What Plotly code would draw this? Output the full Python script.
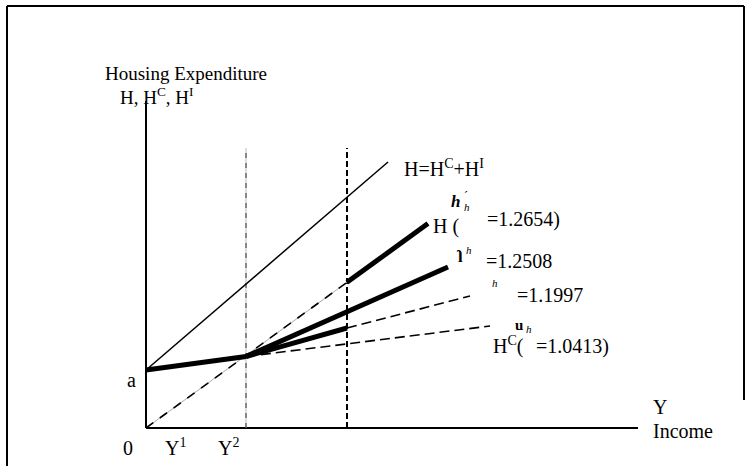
import plotly.graph_objects as go

# ---------------- data (chart units: origin at 0,0) ----------------
y_intercept_a = 0.58          # point "a" on the vertical axis
Y1 = 0.39
Y2 = 1.00
Y3 = 2.01
v_top = 2.80                  # top of the two vertical reference lines
axis_y_top = 3.27
axis_x_right = 4.92

total_x = [0.0, 2.42]                       # H = H^C + H^I
total_y = [0.58, 2.66]
origin_x = [0.0, 1.00, 2.01, 2.82]          # ray through origin (1.2654)
origin_y = [0.0, 0.725, 1.457, 2.045]
hc_x = [0.0, 1.00, 3.44]                    # H^C (1.0413)
hc_y = [0.58, 0.715, 1.02]
e2508_x = [1.00, 3.02]                      # 1.2508
e2508_y = [0.715, 1.61]
e1997_x = [1.00, 2.01, 3.24]                # 1.1997
e1997_y = [0.715, 1.00, 1.32]

FONT = "Liberation Serif"
X0, Y0, S = 146.0, 428.0, 100.0   # pixel position of origin, pixels per unit
W, H = 750, 466


def dx(px):
    return (px - X0) / S


def dy(py):
    return (Y0 - py) / S


fig = go.Figure()


def add_line(xs, ys, width, color="black", dash="solid"):
    fig.add_trace(go.Scatter(x=xs, y=ys, mode="lines",
                             line=dict(color=color, width=width, dash=dash),
                             hoverinfo="skip", showlegend=False))


# axes
add_line([0, 0], [0, axis_y_top], 2)
add_line([0, axis_x_right], [0, 0], 2)
# vertical reference lines
add_line([Y2, Y2], [0, v_top], 1, color="#bbb")
add_line([Y2, Y2], [0, v_top], 1, color="#333", dash="5px,5px")
add_line([Y3, Y3], [0, v_top], 2, color="black", dash="6px,3px")
# total line
add_line(total_x, total_y, 1.5)
# ray through origin: dashed then thick
add_line(origin_x[:3], origin_y[:3], 1, color="#aaa")
add_line(origin_x[:3], origin_y[:3], 1.6, color="black", dash="9px,8px")
add_line(origin_x[2:], origin_y[2:], 5)
# H^C: thick from a to Y2, dashed after
add_line(hc_x[:2], hc_y[:2], 5)
add_line(hc_x[1:], hc_y[1:], 1.6, dash="10px,5px")
# 1.2508 thick
add_line(e2508_x, e2508_y, 5)
# 1.1997 thick then dashed
add_line(e1997_x[:2], e1997_y[:2], 5)
add_line(e1997_x[1:], e1997_y[1:], 1.6, dash="10px,5px")

ann = []


def text(s, px, baseline, size=20, anchor="left"):
    ann.append(dict(x=dx(px), y=dy(baseline + 0.216 * size + 1), xref="x", yref="y",
                    text=s, showarrow=False, xanchor=anchor, yanchor="bottom",
                    font=dict(family=FONT, size=size, color="black"), borderpad=0))


text("Housing Expenditure", 104, 80, 19)
text("H, H<sup>C</sup>, H<sup>I</sup>", 119, 104, 19)
text("H=H<sup>C</sup>+H<sup>I</sup>", 403, 176, 20)
text("<b><i>h</i></b>", 450, 207, 17)
text("ˊ", 463, 200, 12)
text("<i>h</i>", 463, 211, 11)
text("H (", 432, 234, 20)
text("=1.2654)", 486, 227, 20)
text("<b>ɿ</b>", 455, 258, 17)
text("<i>h</i>", 465, 254, 11)
text("=1.2508", 485, 268, 20)
text("<i>h</i>", 491, 287, 11)
text("=1.1997", 516, 302, 20)
text("<b>u</b>", 514, 330, 15)
text("<i>h</i>", 525, 333, 11)
text("H<sup>C</sup>(", 492, 354, 20)
text("=1.0413)", 535, 354, 20)
text("Y", 652, 414, 20)
text("Income", 652, 438, 20)
text("a", 126, 387, 20)
text("0", 122, 455, 20)
text("Y<sup>1</sup>", 164, 455, 20)
text("Y<sup>2</sup>", 217, 455, 20)

# frame
frame = [
    dict(type="line", xref="paper", yref="paper", x0=7 / W, x1=7 / W, y0=0, y1=1 - 6 / H),
    dict(type="line", xref="paper", yref="paper", x0=7 / W, x1=744 / W, y0=1 - 6 / H, y1=1 - 6 / H),
    dict(type="line", xref="paper", yref="paper", x0=744 / W, x1=744 / W, y0=1 - 6 / H, y1=1 - 400 / H),
]
for f in frame:
    f["line"] = dict(color="black", width=2)

fig.update_layout(
    width=W, height=H, margin=dict(l=0, r=0, t=0, b=0),
    paper_bgcolor="white", plot_bgcolor="white",
    xaxis=dict(range=[dx(0), dx(W)], visible=False, fixedrange=True),
    yaxis=dict(range=[dy(H), dy(0)], visible=False, fixedrange=True),
    annotations=ann, shapes=frame, showlegend=False,
)
fig.write_html(
    "out.html",
    config={"displayModeBar": False},
    post_script="document.body.style.margin='0';document.body.style.overflow='hidden';",
)
